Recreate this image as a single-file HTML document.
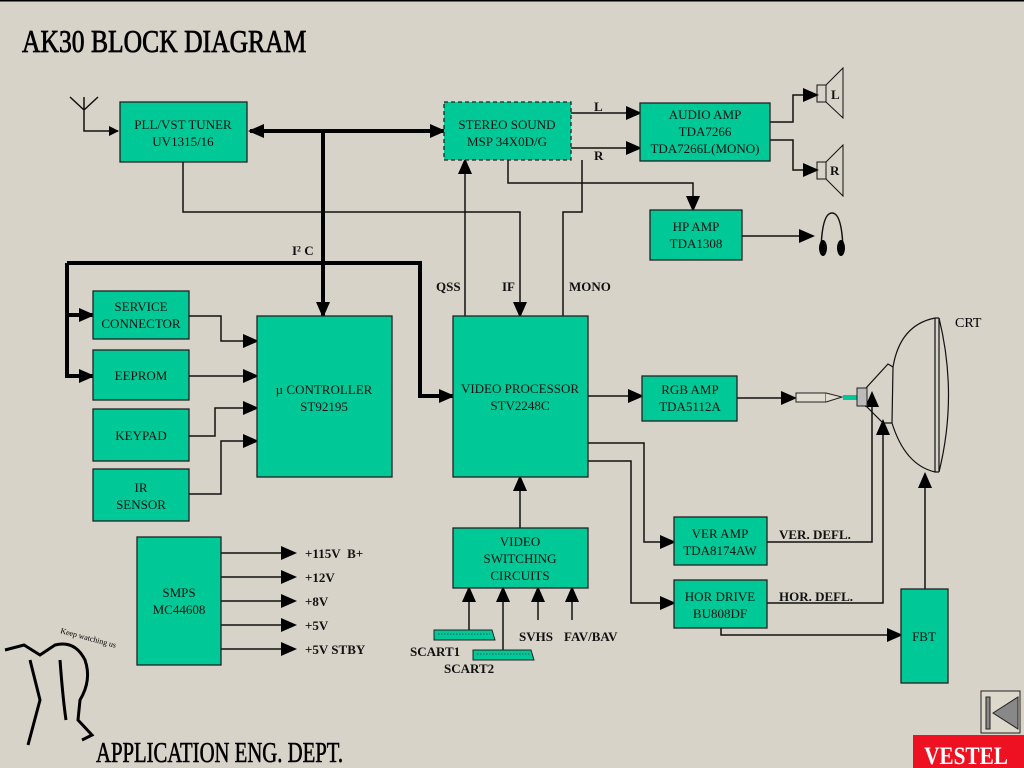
<!DOCTYPE html>
<html><head><meta charset="utf-8"><style>
html,body{margin:0;padding:0;background:#d8d3c9;}
svg{display:block}
text{font-family:"Liberation Serif",serif;}
.b{fill:#00c896;stroke:#222;stroke-width:1.3}
.t{font-size:13px;fill:#111;text-anchor:middle}
.l{font-size:13px;font-weight:bold;fill:#111}
.w{stroke:#111;stroke-width:1.5;fill:none}
.k{stroke:#000;stroke-width:4;fill:none}
</style></head><body>
<svg width="1024" height="768" viewBox="0 0 1024 768">
<defs>
<marker id="a" markerWidth="10" markerHeight="10" refX="9" refY="5" orient="auto" markerUnits="userSpaceOnUse" viewBox="0 0 10 10"><path d="M0,0L10,5L0,10z" fill="#000"/></marker>
<marker id="A" markerWidth="16" markerHeight="16" refX="14" refY="8" orient="auto" markerUnits="userSpaceOnUse" viewBox="0 0 16 16"><path d="M0,1L16,8L0,15z" fill="#000"/></marker>
</defs>
<rect width="1024" height="768" fill="#d8d3c9"/>
<rect x="0" y="0" width="1024" height="1.5" fill="#000"/>
<text x="22" y="52" font-size="32" stroke="#000" stroke-width="0.8" transform="translate(22 0) scale(0.8 1) translate(-22 0)">AK30 BLOCK DIAGRAM</text>

<!-- antenna -->
<path class="w" d="M70,97L84,110L98,97M84,97V131H118" marker-end="url(#a)"/>

<!-- thick bus -->
<path class="k" d="M444,131H250" marker-end="url(#A)"/>
<path class="k" d="M323,131V316" marker-end="url(#A)"/>
<path class="k" d="M420,131H444" marker-end="url(#A)"/>
<path class="k" d="M67,263H420V396H453" marker-end="url(#A)"/>
<path class="k" d="M67,263V376H93" marker-end="url(#A)"/>
<path class="k" d="M67,315H93" marker-end="url(#A)"/>
<text class="l" x="292" y="255">I² C</text>

<!-- thin lines -->
<path class="w" d="M183,162V212H520V316" marker-end="url(#A)"/>
<path class="w" d="M465,316V160" marker-end="url(#A)"/>
<path class="w" d="M563,316V212H582V160"/>
<path class="w" d="M571,113H640" marker-end="url(#A)"/>
<path class="w" d="M571,148H640" marker-end="url(#A)"/>
<text class="l" x="594" y="111">L</text><text class="l" x="594" y="160">R</text>
<path class="w" d="M508,160V183H693V210" marker-end="url(#A)"/>
<path class="w" d="M770,122H793V95H817" marker-end="url(#A)"/>
<path class="w" d="M770,140H793V170H817" marker-end="url(#A)"/>
<path class="w" d="M742,236H813" marker-end="url(#A)"/>
<text class="l" x="436" y="291">QSS</text><text class="l" x="502" y="291">IF</text><text class="l" x="569" y="291">MONO</text>

<!-- controller inputs -->
<path class="w" d="M189,316H221V341H257" marker-end="url(#A)"/>
<path class="w" d="M189,376H257" marker-end="url(#A)"/>
<path class="w" d="M189,436H215V408H257" marker-end="url(#A)"/>
<path class="w" d="M189,494H221V441H257" marker-end="url(#A)"/>

<!-- video -->
<path class="w" d="M588,396H642" marker-end="url(#A)"/>
<path class="w" d="M737,398H795" marker-end="url(#A)"/>
<path class="w" d="M588,443H644V542H674" marker-end="url(#A)"/>
<path class="w" d="M588,461H631V603H674" marker-end="url(#A)"/>
<path class="w" d="M767,542H872V393" marker-end="url(#A)"/>
<path class="w" d="M767,603H883V421" marker-end="url(#A)"/>
<path class="w" d="M721,628V635H901" marker-end="url(#A)"/>
<path class="w" d="M925,589V474" marker-end="url(#A)"/>
<text class="l" x="779" y="539">VER. DEFL.</text><text class="l" x="779" y="601">HOR. DEFL.</text>
<path class="w" d="M520,528V477" marker-end="url(#A)"/>
<path class="w" d="M469,630V588" marker-end="url(#A)"/>
<path class="w" d="M503,650V588" marker-end="url(#A)"/>
<path class="w" d="M538,620V588" marker-end="url(#A)"/>
<path class="w" d="M572,620V588" marker-end="url(#A)"/>
<text class="l" x="519" y="641">SVHS</text><text class="l" x="564" y="641">FAV/BAV</text>
<text class="l" x="410" y="656">SCART1</text><text class="l" x="444" y="673">SCART2</text>
<path d="M434,630H492L495,640H434z" fill="#00c896" stroke="#222"/>
<line x1="438" y1="634" x2="490" y2="634" stroke="#155" stroke-dasharray="1.5,1.5"/>
<path d="M473,650H531L534,660H473z" fill="#00c896" stroke="#222"/>
<line x1="477" y1="654" x2="529" y2="654" stroke="#155" stroke-dasharray="1.5,1.5"/>

<!-- SMPS -->
<path class="w" d="M221,553H295" marker-end="url(#A)"/>
<path class="w" d="M221,577H295" marker-end="url(#A)"/>
<path class="w" d="M221,601H295" marker-end="url(#A)"/>
<path class="w" d="M221,625H295" marker-end="url(#A)"/>
<path class="w" d="M221,649H295" marker-end="url(#A)"/>
<text class="l" x="305" y="558">+115V&#160;&#160;B+</text>
<text class="l" x="305" y="582">+12V</text><text class="l" x="305" y="606">+8V</text>
<text class="l" x="305" y="630">+5V</text><text class="l" x="305" y="654">+5V STBY</text>

<!-- boxes -->
<rect class="b" x="120" y="102" width="127" height="60"/>
<text class="t" x="183" y="129">PLL/VST TUNER</text><text class="t" x="183" y="146">UV1315/16</text>
<rect class="b" x="444" y="102" width="127" height="58" stroke-dasharray="4,3"/>
<text class="t" x="507" y="129">STEREO SOUND</text><text class="t" x="507" y="146">MSP 34X0D/G</text>
<rect class="b" x="640" y="103" width="130" height="58"/>
<text class="t" x="705" y="119">AUDIO AMP</text><text class="t" x="705" y="136">TDA7266</text><text class="t" x="705" y="153">TDA7266L(MONO)</text>
<rect class="b" x="650" y="210" width="92" height="50"/>
<text class="t" x="696" y="231">HP AMP</text><text class="t" x="696" y="248">TDA1308</text>
<rect class="b" x="93" y="291" width="96" height="48"/>
<text class="t" x="141" y="311">SERVICE</text><text class="t" x="141" y="328">CONNECTOR</text>
<rect class="b" x="93" y="350" width="96" height="50"/><text class="t" x="141" y="380">EEPROM</text>
<rect class="b" x="93" y="409" width="96" height="52"/><text class="t" x="141" y="440">KEYPAD</text>
<rect class="b" x="93" y="469" width="96" height="52"/>
<text class="t" x="141" y="492">IR</text><text class="t" x="141" y="509">SENSOR</text>
<rect class="b" x="257" y="316" width="135" height="161"/>
<text class="t" x="324" y="394">µ CONTROLLER</text><text class="t" x="324" y="411">ST92195</text>
<rect class="b" x="453" y="316" width="135" height="161"/>
<text class="t" x="520" y="393">VIDEO PROCESSOR</text><text class="t" x="520" y="410">STV2248C</text>
<rect class="b" x="642" y="376" width="95" height="45"/>
<text class="t" x="690" y="394">RGB AMP</text><text class="t" x="690" y="411">TDA5112A</text>
<rect class="b" x="453" y="528" width="135" height="60"/>
<text class="t" x="520" y="546">VIDEO</text><text class="t" x="520" y="563">SWITCHING</text><text class="t" x="520" y="580">CIRCUITS</text>
<rect class="b" x="674" y="517" width="93" height="48"/>
<text class="t" x="720" y="538">VER AMP</text><text class="t" x="720" y="555">TDA8174AW</text>
<rect class="b" x="674" y="580" width="93" height="48"/>
<text class="t" x="720" y="601">HOR DRIVE</text><text class="t" x="720" y="618">BU808DF</text>
<rect class="b" x="901" y="589" width="47" height="94"/><text class="t" x="924" y="641">FBT</text>
<rect class="b" x="137" y="537" width="84" height="128"/>
<text class="t" x="179" y="597">SMPS</text><text class="t" x="179" y="614">MC44608</text>

<!-- speakers -->
<rect x="817" y="85" width="9" height="17" fill="none" stroke="#111"/>
<path class="w" d="M826,85L843,68V118L826,102" style="stroke-width:1"/>
<text class="l" x="831" y="99">L</text>
<rect x="817" y="162" width="9" height="17" fill="none" stroke="#111"/>
<path class="w" d="M826,162L843,145V196L826,179" style="stroke-width:1"/>
<text class="l" x="830" y="175">R</text>
<!-- headphones -->
<path class="w" d="M821,250Q822,213 832,213Q842,213 843,250"/>
<ellipse cx="823" cy="248" rx="4" ry="8" fill="#000"/><ellipse cx="841" cy="248" rx="4" ry="8" fill="#000"/>

<!-- CRT -->
<text x="955" y="327" font-size="14">CRT</text>
<rect x="796" y="393" width="30" height="9" fill="#e0dcd2" stroke="#222"/>
<path d="M826,393L842,397L826,402" fill="#e0dcd2" stroke="#222"/>
<rect x="843" y="395" width="14" height="5" fill="#00c896"/>
<g fill="none" stroke="#111" stroke-width="1.2">
<path d="M866,388L888,364L893,367Q900,325 935,318"/>
<path d="M866,406L883,423L892,423Q905,465 935,472"/>
<path d="M893,367L892,423"/>
<path d="M939,318Q958,395 939,472"/>
<path d="M935,318V472M939,318V472M935,318H939M935,472H939"/>
</g>
<rect x="857" y="388" width="10" height="18" fill="#bbb" stroke="#222"/>

<!-- mascot -->
<g fill="none" stroke="#000" stroke-width="3">
<path d="M5,650L24,645L40,655L55,645Q75,640 85,660Q92,680 80,700L78,720L92,735L82,740"/>
<path d="M30,660L40,700L28,745"/>
<path d="M60,660Q63,700 66,720"/>
</g>
<text x="60" y="633" font-size="8" transform="rotate(15 60 633)" font-family="Liberation Sans">Keep watching us</text>
<text x="96" y="762" font-size="28" stroke="#000" stroke-width="0.6" transform="translate(96 0) scale(0.74 1) translate(-96 0)">APPLICATION ENG. DEPT.</text>

<!-- nav -->
<rect x="981" y="691" width="39" height="42" fill="#ddd8cc" stroke="#222"/>
<rect x="986" y="697" width="4" height="32" fill="#888" stroke="#222"/>
<path d="M993,713L1018,697V729z" fill="#888" stroke="#222"/>
<rect x="913" y="735" width="111" height="33" fill="#ee1122"/>
<text x="966" y="764" font-size="25" font-weight="bold" fill="#fff" text-anchor="middle" font-family="Liberation Sans" transform="translate(966 0) scale(0.85 1) translate(-966 0)">VESTEL</text>
</svg>
</body></html>
